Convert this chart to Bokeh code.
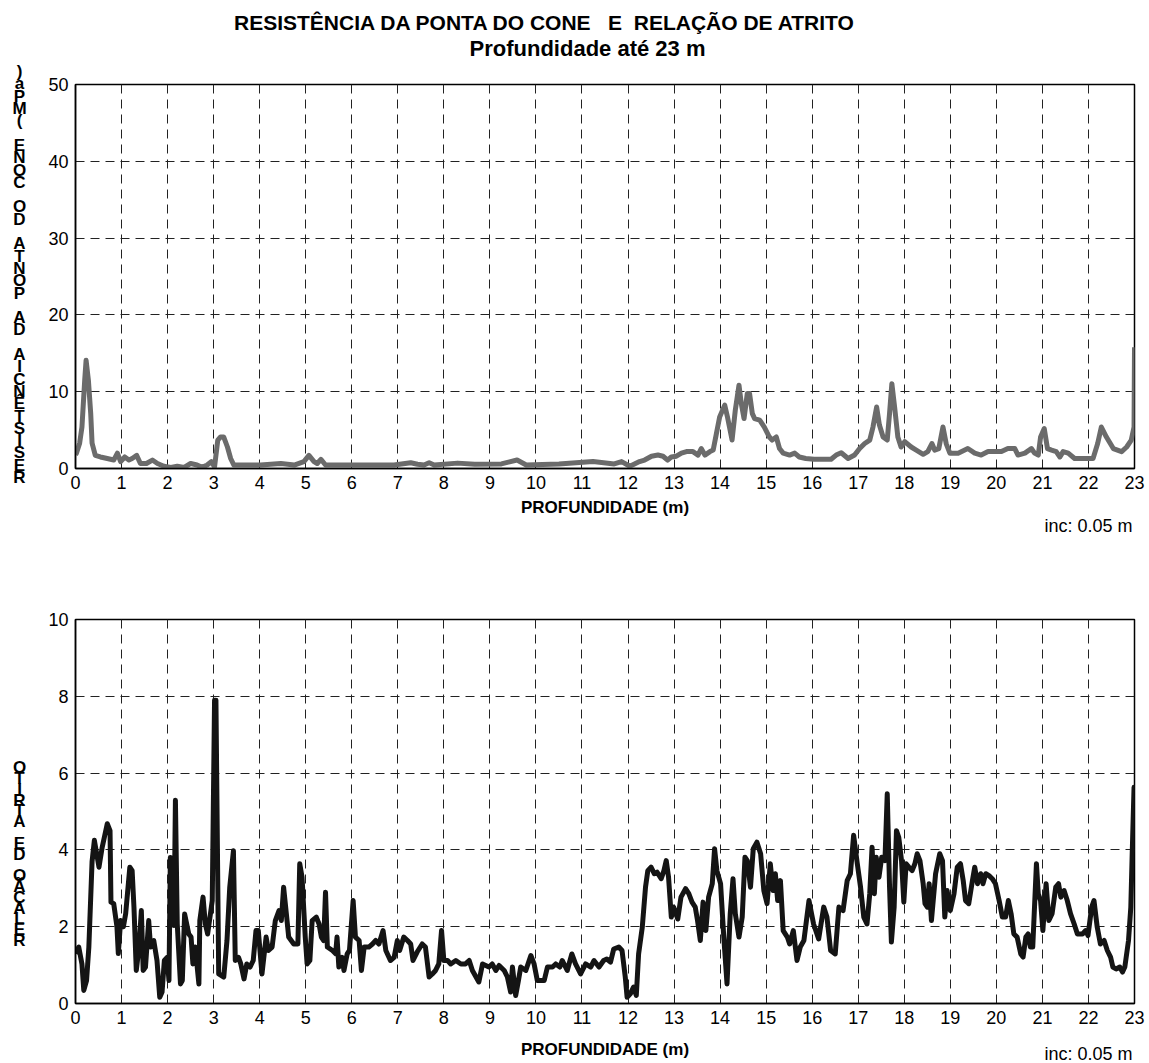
from bokeh.plotting import figure
from bokeh.models import FixedTicker, Range1d
from bokeh.layouts import column, row
from bokeh.core.properties import value
from bokeh.embed import file_html
from bokeh.resources import INLINE

# ---------------- data ----------------
title_line1 = "RESISTÊNCIA DA PONTA DO CONE\u00a0\u00a0 E\u00a0 RELAÇÃO DE ATRITO"
title_line2 = "Profundidade até 23 m"
ylabel_top = "RESISTÊNCIA DA PONTA DO CONE (MPa)"
ylabel_bottom = "RELAÇÃO DE ATRITO"
xlabel = "PROFUNDIDADE (m)"
increment_note = "inc: 0.05 m"
x_ticks = list(range(0, 24))
y_ticks_top = [0, 10, 20, 30, 40, 50]
y_ticks_bottom = [0, 2, 4, 6, 8, 10]

depth_qc = [0.00, 0.02, 0.09, 0.14, 0.20, 0.23, 0.28, 0.33, 0.36, 0.43, 0.54, 0.69, 0.83, 0.91,
            0.98, 1.07, 1.16, 1.23, 1.33, 1.41, 1.54, 1.67, 1.78, 1.92, 2.07, 2.21, 2.36, 2.50,
            2.64, 2.75, 2.86, 2.95, 3.02, 3.09, 3.15, 3.22, 3.30, 3.37, 3.44, 4.02, 4.46, 4.75,
            4.96, 5.07, 5.18, 5.25, 5.33, 5.43, 6.20, 6.92, 7.28, 7.43, 7.57, 7.68, 7.79, 8.30,
            8.67, 9.25, 9.59, 9.79, 10.50, 11.24, 11.70, 11.86, 12.04, 12.25, 12.36, 12.51, 12.65,
            12.76, 12.86, 12.94, 13.05, 13.16, 13.27, 13.41, 13.52, 13.59, 13.67, 13.78, 13.85,
            13.92, 13.99, 14.10, 14.16, 14.26, 14.33, 14.41, 14.46, 14.52, 14.59, 14.64, 14.70,
            14.75, 14.86, 14.96, 15.07, 15.13, 15.22, 15.29, 15.37, 15.51, 15.62, 15.72, 15.86,
            16.04, 16.33, 16.41, 16.52, 16.63, 16.78, 16.92, 17.03, 17.14, 17.25, 17.32, 17.40,
            17.46, 17.54, 17.63, 17.68, 17.73, 17.79, 17.86, 17.93, 18.01, 18.15, 18.26, 18.41,
            18.51, 18.60, 18.66, 18.75, 18.84, 18.91, 18.99, 19.17, 19.38, 19.53, 19.67, 19.82,
            20.11, 20.25, 20.40, 20.47, 20.62, 20.76, 20.83, 20.91, 20.96, 21.04, 21.11, 21.20,
            21.30, 21.38, 21.45, 21.56, 21.70, 21.92, 22.10, 22.20, 22.28, 22.39, 22.54, 22.72,
            22.83, 22.93, 22.99, 23.00]
qc_mpa = [1.8, 2.0, 3.3, 5.4, 11.5, 14.1, 11.5, 7.2, 3.3, 1.7, 1.5, 1.3, 1.1, 2.0,
          0.9, 1.5, 1.1, 1.3, 1.7, 0.65, 0.65, 1.1, 0.65, 0.3, 0.15, 0.3, 0.15, 0.65,
          0.45, 0.15, 0.45, 0.9, 0.2, 3.7, 4.1, 4.1, 2.8, 1.3, 0.45, 0.45, 0.65, 0.45,
          0.9, 1.7, 0.9, 0.65, 1.2, 0.45, 0.45, 0.45, 0.75, 0.55, 0.45, 0.75, 0.45, 0.7,
          0.55, 0.6, 1.1, 0.45, 0.6, 0.9, 0.6, 0.9, 0.3, 0.9, 1.1, 1.6, 1.75,
          1.6, 1.1, 1.5, 1.6, 2.0, 2.2, 2.2, 1.75, 2.6, 1.75, 2.2, 2.4,
          4.55, 6.7, 8.25, 6.7, 3.7, 7.6, 10.85, 8.45, 6.5, 9.75, 9.75, 7.15,
          6.5, 6.3, 5.4, 4.1, 3.7, 4.1, 2.6, 2.0, 1.75, 2.0, 1.5, 1.3,
          1.2, 1.2, 1.2, 1.75, 2.05, 1.3, 1.75, 2.6, 3.25, 3.7, 5.4, 8.0,
          5.65, 4.1, 3.7, 7.15, 11.05, 8.0, 4.1, 2.8, 3.5, 2.8, 2.4, 1.85,
          2.2, 3.25, 2.4, 2.6, 5.4, 3.25, 2.0, 2.0, 2.6, 2.0, 1.75, 2.2,
          2.2, 2.6, 2.6, 1.75, 2.0, 2.6, 2.0, 1.75, 4.1, 5.2, 2.6, 2.4,
          2.2, 1.5, 2.2, 2.0, 1.3, 1.3, 1.3, 3.25, 5.4, 4.1, 2.6, 2.2,
          2.8, 3.7, 5.4, 15.8]

depth_rf = [0.00, 0.07, 0.14, 0.18, 0.24, 0.29, 0.36, 0.41, 0.51, 0.58, 0.69, 0.75, 0.77, 0.83,
            0.90, 0.93, 0.98, 1.04, 1.09, 1.18, 1.23, 1.27, 1.32, 1.38, 1.43, 1.47, 1.52, 1.59,
            1.63, 1.70, 1.77, 1.83, 1.88, 1.93, 1.99, 2.03, 2.06, 2.14, 2.17, 2.21, 2.28, 2.32,
            2.37, 2.46, 2.51, 2.55, 2.60, 2.68, 2.70, 2.77, 2.82, 2.87, 2.93, 2.97, 3.02, 3.05,
            3.11, 3.22, 3.29, 3.35, 3.43, 3.47, 3.54, 3.59, 3.66, 3.72, 3.79, 3.86, 3.92, 3.97,
            4.05, 4.14, 4.19, 4.27, 4.34, 4.42, 4.47, 4.52, 4.58, 4.63, 4.74, 4.83, 4.87, 4.92,
            4.99, 5.03, 5.09, 5.14, 5.23, 5.29, 5.34, 5.39, 5.43, 5.47, 5.58, 5.65, 5.68, 5.72,
            5.79, 5.83, 5.90, 5.95, 6.03, 6.08, 6.16, 6.21, 6.27, 6.37, 6.45, 6.52, 6.59, 6.68,
            6.74, 6.84, 6.92, 6.99, 7.04, 7.13, 7.21, 7.28, 7.33, 7.42, 7.53, 7.60, 7.68, 7.75,
            7.82, 7.89, 7.95, 8.00, 8.08, 8.15, 8.26, 8.37, 8.47, 8.55, 8.62, 8.76, 8.84, 8.98,
            9.05, 9.13, 9.20, 9.31, 9.38, 9.45, 9.49, 9.56, 9.62, 9.67, 9.78, 9.89, 9.96, 10.03,
            10.18, 10.25, 10.36, 10.43, 10.52, 10.57, 10.68, 10.78, 10.86, 10.97, 11.08, 11.19,
            11.26, 11.37, 11.47, 11.54, 11.62, 11.69, 11.80, 11.87, 11.94, 11.98, 12.05, 12.12,
            12.18, 12.23, 12.31, 12.38, 12.43, 12.50, 12.57, 12.63, 12.72, 12.78, 12.83, 12.88,
            12.94, 12.99, 13.08, 13.15, 13.25, 13.32, 13.39, 13.46, 13.51, 13.57, 13.63, 13.69,
            13.75, 13.83, 13.88, 13.93, 14.01, 14.08, 14.15, 14.22, 14.28, 14.33, 14.41, 14.48,
            14.54, 14.59, 14.66, 14.72, 14.80, 14.88, 14.95, 15.02, 15.09, 15.15, 15.20, 15.25,
            15.31, 15.37, 15.46, 15.51, 15.59, 15.67, 15.74, 15.82, 15.93, 16.03, 16.14, 16.25,
            16.32, 16.40, 16.50, 16.58, 16.67, 16.76, 16.83, 16.90, 16.98, 17.05, 17.12, 17.19,
            17.25, 17.30, 17.35, 17.39, 17.45, 17.51, 17.58, 17.63, 17.68, 17.72, 17.78, 17.83,
            17.88, 17.94, 17.99, 18.04, 18.10, 18.17, 18.23, 18.28, 18.34, 18.41, 18.45, 18.50,
            18.54, 18.59, 18.68, 18.77, 18.83, 18.88, 18.93, 19.00, 19.08, 19.15, 19.22, 19.28,
            19.33, 19.40, 19.48, 19.53, 19.59, 19.66, 19.71, 19.77, 19.84, 19.91, 19.98, 20.06,
            20.13, 20.20, 20.26, 20.32, 20.38, 20.45, 20.53, 20.58, 20.64, 20.69, 20.74, 20.79,
            20.87, 20.91, 20.96, 21.01, 21.08, 21.14, 21.21, 21.29, 21.35, 21.40, 21.47, 21.54,
            21.61, 21.69, 21.76, 21.87, 21.94, 21.99, 22.07, 22.12, 22.19, 22.26, 22.34, 22.41,
            22.48, 22.53, 22.60, 22.68, 22.74, 22.79, 22.87, 22.92, 22.95, 22.99, 23.00]
rf_ratio = [1.3, 1.47, 1.03, 0.34, 0.6, 1.47, 3.7, 4.25, 3.55, 4.07, 4.68, 4.5, 2.64, 2.6,
            2.0, 1.3, 2.16, 2.0, 2.34, 3.55, 3.46, 2.5, 0.86, 1.47, 2.42, 0.86, 0.95, 2.16,
            1.47, 1.64, 1.12, 0.16, 0.3, 1.12, 1.2, 0.6, 3.8, 2.03, 5.29, 2.07, 0.51, 0.6,
            2.33, 1.81, 1.73, 1.03, 1.47, 0.51, 2.16, 2.77, 2.07, 1.81, 2.33, 2.68, 7.9, 7.9,
            0.77, 0.69, 1.64, 3.03, 3.98, 1.12, 1.2, 1.03, 0.64, 1.03, 0.95, 1.12, 1.9, 1.9,
            0.77, 1.73, 1.38, 1.47, 2.16, 2.42, 2.16, 3.03, 2.33, 1.73, 1.55, 1.55, 3.64, 3.29,
            1.73, 1.03, 1.12, 2.16, 2.25, 2.07, 1.73, 1.64, 2.9, 1.47, 1.38, 1.3, 1.73, 0.95,
            1.2, 0.86, 1.29, 1.38, 2.68, 1.73, 1.64, 0.86, 1.47, 1.47, 1.55, 1.64, 1.55, 1.9,
            1.38, 1.12, 1.2, 1.64, 1.38, 1.73, 1.64, 1.55, 1.12, 1.34, 1.55, 1.47, 0.69, 0.77,
            0.86, 1.03, 1.9, 1.12, 1.12, 1.03, 1.12, 1.03, 1.03, 1.12, 0.86, 0.56, 1.03, 0.95,
            1.03, 0.86, 0.99, 0.86, 0.69, 0.3, 0.95, 0.21, 0.6, 0.95, 0.86, 1.25, 1.03, 0.6,
            0.6, 0.95, 0.95, 1.03, 0.95, 1.12, 0.86, 1.29, 1.03, 0.77, 1.03, 0.95,
            1.12, 0.95, 1.12, 1.16, 1.08, 1.42, 1.47, 1.38, 0.69, 0.16, 0.25, 0.43,
            0.21, 1.29, 1.99, 3.03, 3.46, 3.55, 3.38, 3.42, 3.25, 3.46, 3.72, 3.29,
            2.25, 2.51, 2.2, 2.77, 2.99, 2.86, 2.64, 2.51, 2.16, 1.64, 2.64, 1.9,
            2.77, 3.12, 4.03, 3.46, 3.12, 1.73, 0.51, 2.34, 3.25, 2.34, 1.73, 2.25,
            3.81, 3.72, 3.03, 4.03, 4.2, 3.9, 2.94, 2.6, 3.64, 2.94, 3.38, 2.68,
            3.2, 1.9, 1.73, 1.55, 1.9, 1.12, 1.47, 1.64, 2.68, 2.07, 1.68, 2.51,
            2.25, 1.38, 1.29, 2.51, 2.42, 3.2, 3.38, 4.38, 3.64, 3.03, 2.25, 2.07,
            2.86, 4.07, 2.86, 3.81, 3.29, 3.81, 3.72, 5.46, 3.03, 1.6, 2.51, 4.5,
            4.33, 3.72, 2.64, 3.64, 3.55, 3.46, 3.64, 3.9, 3.72, 3.12, 2.6, 2.51,
            3.12, 2.16, 3.38, 3.9, 3.72, 2.25, 2.94, 2.42, 2.86, 3.55, 3.64, 3.2,
            2.68, 2.6, 3.2, 3.55, 3.12, 3.38, 3.12, 3.38, 3.33, 3.25, 3.12, 2.68,
            2.25, 2.25, 2.68, 2.34, 1.81, 1.73, 1.29, 1.21, 1.73, 1.81, 1.47, 1.47,
            3.64, 2.86, 2.68, 1.9, 3.12, 2.16, 2.34, 3.03, 3.12, 2.77, 2.94, 2.68,
            2.34, 2.07, 1.81, 1.81, 1.9, 1.77, 2.51, 2.68, 1.99, 1.55, 1.64, 1.38,
            1.21, 0.95, 0.9, 0.95, 0.82, 0.95, 1.64, 2.51, 3.9, 5.63, 3.94]

# ---------------- layout constants (page pixels) ----------------
FONT = "Liberation Sans"
W = 1149
STRIP_W = 40
FRAME_L, FRAME_R = 75, 1134
X0, X1 = 0, 23

TITLE_Y0, TITLE_Y1 = 0, 60       # two title lines
TOP_Y0, TOP_Y1 = 60, 494         # top chart block (frame 84..468)
NOTE1_Y0, NOTE1_Y1 = 494, 560    # under top chart: axis title + increment
BOT_Y0, BOT_Y1 = 560, 1034       # bottom chart block (frame 619..1003)
NOTE2_Y0, NOTE2_Y1 = 1034, 1063  # under bottom chart


def chart(y0, y1, frame_top, frame_bottom, ymax, yticks, line_x, line_y, color):
    p = figure(width=W - STRIP_W, height=y1 - y0, x_range=Range1d(X0, X1),
               y_range=Range1d(0, ymax), output_backend="svg", toolbar_location=None,
               min_border_left=FRAME_L - STRIP_W, min_border_right=W - FRAME_R,
               min_border_top=frame_top - y0, min_border_bottom=y1 - frame_bottom)
    p.frame_align = False
    p.background_fill_color = "white"
    p.border_fill_color = "white"
    p.outline_line_color = "black"
    p.outline_line_width = 1.5
    p.xaxis.ticker = FixedTicker(ticks=x_ticks)
    p.yaxis.ticker = FixedTicker(ticks=yticks)
    for ax in (p.xaxis[0], p.yaxis[0]):
        ax.major_tick_in = 0
        ax.major_tick_out = 0
        ax.minor_tick_in = 0
        ax.minor_tick_out = 0
        ax.axis_line_color = "black"
        ax.axis_line_width = 1.5
        ax.major_label_text_font = FONT
        ax.major_label_text_font_size = "18px"
        ax.major_label_text_color = "black"
    p.yaxis.major_label_standoff = 7
    p.xaxis.major_label_standoff = 7
    for g in (p.xgrid[0], p.ygrid[0]):
        g.grid_line_color = "#222222"
        g.grid_line_width = 1
        g.grid_line_dash = "9 6"
    p.line(line_x, line_y, line_color=color, line_width=5, line_join="round")
    return p


def strip(width, y0, y1):
    """Blank figure whose data space equals page pixels (x right, y down)."""
    s = figure(width=width, height=y1 - y0, x_range=Range1d(0, width), y_range=Range1d(y1, y0),
               x_axis_type=None, y_axis_type=None, output_backend="svg", toolbar_location=None,
               min_border=0)
    s.frame_align = False
    s.outline_line_color = None
    s.background_fill_color = "white"
    s.border_fill_color = "white"
    return s


def stacked(s, text, bottom_py, step):
    xs, ys, chars = [], [], []
    for i, ch in enumerate(text):
        if ch == " ":
            continue
        xs.append(19)
        ys.append(bottom_py - i * step)
        chars.append(ch)
    s.text(x=xs, y=ys, text=chars, text_font=value(FONT), text_font_style="bold",
           text_font_size="17px", text_align="center", text_baseline="middle",
           text_color="black")


def notes(y0, y1, label_y, inc_y):
    s = strip(W, y0, y1)
    s.text(x=[(FRAME_L + FRAME_R) / 2], y=[label_y], text=[xlabel], text_font=value(FONT),
           text_font_style="bold", text_font_size="17px", text_align="center",
           text_baseline="middle", text_color="black")
    s.text(x=[1132], y=[inc_y], text=[increment_note], text_font=value(FONT),
           text_font_size="18px", text_align="right", text_baseline="middle",
           text_color="black")
    return s


# title block
ts = strip(W, TITLE_Y0, TITLE_Y1)
ts.text(x=[545], y=[22], text=[title_line1], text_font=value(FONT), text_font_style="bold",
        text_font_size="21px", text_align="center", text_baseline="middle", text_color="black")
ts.text(x=[587], y=[48], text=[title_line2], text_font=value(FONT), text_font_style="bold",
        text_font_size="22px", text_align="center", text_baseline="middle", text_color="black")

# top chart
p1 = chart(TOP_Y0, TOP_Y1, 84, 468, 50, y_ticks_top, depth_qc, qc_mpa, "#6b6b6b")
s1 = strip(STRIP_W, TOP_Y0, TOP_Y1)
stacked(s1, ylabel_top, 477, 12.3)
n1 = notes(NOTE1_Y0, NOTE1_Y1, 507, 525)

# bottom chart
p2 = chart(BOT_Y0, BOT_Y1, 619, 1003, 10, y_ticks_bottom, depth_rf, rf_ratio, "#141414")
s2 = strip(STRIP_W, BOT_Y0, BOT_Y1)
stacked(s2, ylabel_bottom, 940, 10.8)
n2 = notes(NOTE2_Y0, NOTE2_Y1, 1049, 1053)

layout = column(ts, row(s1, p1, spacing=0), n1, row(s2, p2, spacing=0), n2, spacing=0)
open("out.html", "w").write(file_html(layout, INLINE))
